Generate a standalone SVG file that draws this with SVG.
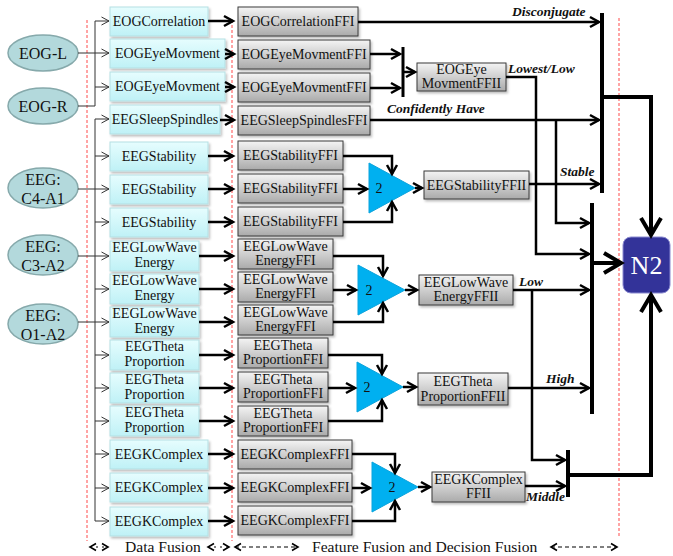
<svg xmlns="http://www.w3.org/2000/svg" width="673" height="556" viewBox="0 0 673 556" font-family="'Liberation Serif', 'Times New Roman', 'DejaVu Serif', serif">
<style>
text{font-family:'Liberation Serif','Times New Roman','DejaVu Serif',serif;fill:#111}
.t{font-size:14px;text-anchor:middle}
.e{font-size:16px;text-anchor:middle}
.lb{font-size:13.5px;font-weight:bold;font-style:italic}
.bt{font-size:15.6px}
.c1{fill:url(#gc);stroke:#b5dfe3;stroke-width:1;filter:url(#sh)}
.c2{fill:url(#gg);stroke:#3a3a3a;stroke-width:1;filter:url(#sh)}
.el{fill:#b3d9dc;stroke:#86a9ab;stroke-width:1.5}
.tri{fill:#00b0f0;stroke:#0aa3dc;stroke-width:1}
.red{stroke:#ff4a4a;stroke-width:1;stroke-dasharray:3,2;fill:none}
.thin{stroke:#333;stroke-width:1;fill:none}
.thk{stroke:#000;stroke-width:2.5;fill:none}
.bar{stroke:#000;stroke-width:4;fill:none}
.big{stroke:#000;stroke-width:4;fill:none}
</style>
<defs>
<linearGradient id="gc" x1="0" y1="0" x2="0" y2="1"><stop offset="0" stop-color="#e6fdfe"/><stop offset="1" stop-color="#bff1f6"/></linearGradient>
<linearGradient id="gg" x1="0" y1="0" x2="0" y2="1"><stop offset="0" stop-color="#f4f4f4"/><stop offset="1" stop-color="#aaaaaa"/></linearGradient>
<filter id="sh" x="-10%" y="-20%" width="130%" height="150%"><feDropShadow dx="1.5" dy="2" stdDeviation="1" flood-color="#000" flood-opacity="0.25"/></filter>
<marker id="a" markerUnits="userSpaceOnUse" markerWidth="14" markerHeight="14" refX="11" refY="7" orient="auto"><path d="M2,2 L11,7 L2,12" stroke="#000" stroke-width="2.5" fill="none"/></marker>
<marker id="at" markerUnits="userSpaceOnUse" markerWidth="10" markerHeight="10" refX="8.5" refY="5" orient="auto"><path d="M1,1 L8.5,5 L1,9" stroke="#333" stroke-width="1" fill="none"/></marker>
<marker id="ab" markerUnits="userSpaceOnUse" markerWidth="26" markerHeight="26" refX="21" refY="13" orient="auto"><path d="M4,3 L21,13 L4,23" stroke="#000" stroke-width="4" fill="none"/></marker>
<marker id="ad" markerUnits="userSpaceOnUse" markerWidth="10" markerHeight="10" refX="7" refY="5" orient="auto-start-reverse"><path d="M1,1.5 L7,5 L1,8.5" stroke="#000" stroke-width="1.6" fill="none"/></marker>
</defs>

<!-- red dashed separators -->
<g id="separators">
<line class="red" x1="87" y1="20" x2="87" y2="541"/>
<line class="red" x1="232" y1="20" x2="232" y2="541"/>
<line class="red" x1="619" y1="18" x2="619" y2="538"/>
</g>

<!-- sources -->
<g id="EOG-L"><ellipse class="el" cx="43" cy="53" rx="35" ry="18"/><text class="e" x="43" y="59">EOG-L</text></g>
<g id="EOG-R"><ellipse class="el" cx="43" cy="106" rx="35" ry="18"/><text class="e" x="43" y="112">EOG-R</text></g>
<g id="EEG-C4A1"><ellipse class="el" cx="43" cy="188" rx="35" ry="20"/><text class="e" x="43" y="185">EEG:</text><text class="e" x="43" y="204">C4-A1</text></g>
<g id="EEG-C3A2"><ellipse class="el" cx="43" cy="255" rx="35" ry="20"/><text class="e" x="43" y="252">EEG:</text><text class="e" x="43" y="271">C3-A2</text></g>
<g id="EEG-O1A2"><ellipse class="el" cx="43" cy="324" rx="35" ry="20"/><text class="e" x="43" y="321">EEG:</text><text class="e" x="43" y="340">O1-A2</text></g>

<!-- column 1 (data fusion) -->
<g id="c1r1"><rect class="c1" x="110" y="7" width="98" height="29"/><text class="t" x="159" y="26">EOGCorrelation</text></g>
<g id="c1r2"><rect class="c1" x="110" y="39" width="115" height="29"/><text class="t" x="167.5" y="58">EOGEyeMovment</text></g>
<g id="c1r3"><rect class="c1" x="110" y="72" width="115" height="29"/><text class="t" x="167.5" y="91">EOGEyeMovment</text></g>
<g id="c1r4"><rect class="c1" x="110" y="105" width="110" height="29"/><text class="t" x="165" y="124">EEGSleepSpindles</text></g>
<g id="c1r5"><rect class="c1" x="110" y="142" width="98" height="29"/><text class="t" x="159" y="161">EEGStability</text></g>
<g id="c1r6"><rect class="c1" x="110" y="175" width="98" height="29"/><text class="t" x="159" y="194">EEGStability</text></g>
<g id="c1r7"><rect class="c1" x="110" y="208" width="98" height="29"/><text class="t" x="159" y="227">EEGStability</text></g>
<g id="c1r8"><rect class="c1" x="110" y="241" width="89" height="30"/><text class="t" x="154.5" y="252">EEGLowWave</text><text class="t" x="154.5" y="267">Energy</text></g>
<g id="c1r9"><rect class="c1" x="110" y="274" width="89" height="30"/><text class="t" x="154.5" y="285">EEGLowWave</text><text class="t" x="154.5" y="300">Energy</text></g>
<g id="c1r10"><rect class="c1" x="110" y="307" width="89" height="30"/><text class="t" x="154.5" y="318">EEGLowWave</text><text class="t" x="154.5" y="333">Energy</text></g>
<g id="c1r11"><rect class="c1" x="110" y="340" width="89" height="30"/><text class="t" x="154.5" y="351">EEGTheta</text><text class="t" x="154.5" y="366">Proportion</text></g>
<g id="c1r12"><rect class="c1" x="110" y="373" width="89" height="30"/><text class="t" x="154.5" y="384">EEGTheta</text><text class="t" x="154.5" y="399">Proportion</text></g>
<g id="c1r13"><rect class="c1" x="110" y="406" width="89" height="30"/><text class="t" x="154.5" y="417">EEGTheta</text><text class="t" x="154.5" y="432">Proportion</text></g>
<g id="c1r14"><rect class="c1" x="110" y="440" width="98" height="29"/><text class="t" x="159" y="459">EEGKComplex</text></g>
<g id="c1r15"><rect class="c1" x="110" y="473" width="98" height="29"/><text class="t" x="159" y="492">EEGKComplex</text></g>
<g id="c1r16"><rect class="c1" x="110" y="507" width="98" height="29"/><text class="t" x="159" y="526">EEGKComplex</text></g>

<!-- column 2 (feature fusion I) -->
<g id="c2r1"><rect class="c2" x="238" y="7" width="120" height="29"/><text class="t" x="298" y="26">EOGCorrelationFFI</text></g>
<g id="c2r2"><rect class="c2" x="238" y="40" width="132" height="29"/><text class="t" x="304" y="59">EOGEyeMovmentFFI</text></g>
<g id="c2r3"><rect class="c2" x="238" y="73" width="132" height="29"/><text class="t" x="304" y="92">EOGEyeMovmentFFI</text></g>
<g id="c2r4"><rect class="c2" x="238" y="106" width="132" height="29"/><text class="t" x="304" y="125">EEGSleepSpindlesFFI</text></g>
<g id="c2r5"><rect class="c2" x="238" y="141" width="105" height="29"/><text class="t" x="290.5" y="160">EEGStabilityFFI</text></g>
<g id="c2r6"><rect class="c2" x="238" y="174" width="105" height="29"/><text class="t" x="290.5" y="193">EEGStabilityFFI</text></g>
<g id="c2r7"><rect class="c2" x="238" y="207" width="105" height="29"/><text class="t" x="290.5" y="226">EEGStabilityFFI</text></g>
<g id="c2r8"><rect class="c2" x="238" y="239" width="95" height="30"/><text class="t" x="285.5" y="251">EEGLowWave</text><text class="t" x="285.5" y="265">EnergyFFI</text></g>
<g id="c2r9"><rect class="c2" x="238" y="272" width="95" height="30"/><text class="t" x="285.5" y="284">EEGLowWave</text><text class="t" x="285.5" y="298">EnergyFFI</text></g>
<g id="c2r10"><rect class="c2" x="238" y="305" width="95" height="30"/><text class="t" x="285.5" y="317">EEGLowWave</text><text class="t" x="285.5" y="331">EnergyFFI</text></g>
<g id="c2r11"><rect class="c2" x="238" y="338" width="90" height="30"/><text class="t" x="283" y="350">EEGTheta</text><text class="t" x="283" y="364">ProportionFFI</text></g>
<g id="c2r12"><rect class="c2" x="238" y="372" width="90" height="30"/><text class="t" x="283" y="384">EEGTheta</text><text class="t" x="283" y="398">ProportionFFI</text></g>
<g id="c2r13"><rect class="c2" x="238" y="406" width="90" height="30"/><text class="t" x="283" y="418">EEGTheta</text><text class="t" x="283" y="432">ProportionFFI</text></g>
<g id="c2r14"><rect class="c2" x="238" y="440" width="114" height="29"/><text class="t" x="295" y="459">EEGKComplexFFI</text></g>
<g id="c2r15"><rect class="c2" x="238" y="473" width="114" height="29"/><text class="t" x="295" y="492">EEGKComplexFFI</text></g>
<g id="c2r16"><rect class="c2" x="238" y="506" width="114" height="29"/><text class="t" x="295" y="525">EEGKComplexFFI</text></g>

<!-- fusion triangles -->
<g id="tri1"><polygon class="tri" points="369,163 369,213 415,188"/><text class="t" x="379" y="193">2</text></g>
<g id="tri2"><polygon class="tri" points="358,265 358,315 405,290"/><text class="t" x="369" y="295">2</text></g>
<g id="tri3"><polygon class="tri" points="357,362 357,412 403,387"/><text class="t" x="367" y="392">2</text></g>
<g id="tri4"><polygon class="tri" points="372,462 372,512 418,487"/><text class="t" x="392" y="492">2</text></g>

<!-- FFII boxes -->
<g id="ffii-eog"><rect class="c2" x="417" y="63" width="89" height="28"/><text class="t" x="461.5" y="74">EOGEye</text><text class="t" x="461.5" y="88">MovmentFFII</text></g>
<g id="ffii-stab"><rect class="c2" x="424" y="171" width="105" height="28"/><text class="t" x="476.5" y="190">EEGStabilityFFII</text></g>
<g id="ffii-low"><rect class="c2" x="419" y="275" width="94" height="30"/><text class="t" x="466" y="287">EEGLowWave</text><text class="t" x="466" y="301">EnergyFFII</text></g>
<g id="ffii-theta"><rect class="c2" x="418" y="373" width="90" height="32"/><text class="t" x="463" y="386">EEGTheta</text><text class="t" x="463" y="401">ProportionFFII</text></g>
<g id="ffii-k"><rect class="c2" x="432" y="472" width="93" height="30"/><text class="t" x="478.5" y="484">EEGKComplex</text><text class="t" x="478.5" y="498">FFII</text></g>

<!-- N2 -->
<g id="N2"><rect x="623" y="237" width="47" height="56" rx="8" fill="#333399" stroke="#8a8ad0" stroke-width="1"/><text x="646.5" y="274" font-size="26" text-anchor="middle" style="fill:#fff">N2</text></g>

<!-- connectors -->
<g id="connectors">
<line class="thin" x1="78" y1="53" x2="109" y2="53" marker-end="url(#at)"/>
<polyline class="thin" points="78,106 95,106 95,21 109,21" marker-end="url(#at)"/>
<line class="thin" x1="95" y1="87" x2="109" y2="87" marker-end="url(#at)"/>
<polyline class="thin" points="95,521 95,119 109,119" marker-end="url(#at)"/>
<line class="thin" x1="95" y1="156" x2="109" y2="156" marker-end="url(#at)"/>
<line class="thin" x1="78" y1="189" x2="109" y2="189" marker-end="url(#at)"/>
<line class="thin" x1="95" y1="222" x2="109" y2="222" marker-end="url(#at)"/>
<line class="thin" x1="78" y1="256" x2="109" y2="256" marker-end="url(#at)"/>
<line class="thin" x1="95" y1="289" x2="109" y2="289" marker-end="url(#at)"/>
<line class="thin" x1="78" y1="322" x2="109" y2="322" marker-end="url(#at)"/>
<line class="thin" x1="95" y1="355" x2="109" y2="355" marker-end="url(#at)"/>
<line class="thin" x1="95" y1="388" x2="109" y2="388" marker-end="url(#at)"/>
<line class="thin" x1="95" y1="421" x2="109" y2="421" marker-end="url(#at)"/>
<line class="thin" x1="95" y1="454" x2="109" y2="454" marker-end="url(#at)"/>
<line class="thin" x1="95" y1="488" x2="109" y2="488" marker-end="url(#at)"/>
<polyline class="thin" points="95,521 109,521" marker-end="url(#at)"/>

<line class="thk" x1="208" y1="21" x2="233" y2="21" marker-end="url(#a)"/>
<line class="thk" x1="225" y1="54" x2="234" y2="54" marker-end="url(#a)"/>
<line class="thk" x1="225" y1="87" x2="234" y2="87" marker-end="url(#a)"/>
<line class="thk" x1="220" y1="120" x2="234" y2="120" marker-end="url(#a)"/>
<line class="thk" x1="208" y1="156" x2="233" y2="156" marker-end="url(#a)"/>
<line class="thk" x1="208" y1="189" x2="233" y2="189" marker-end="url(#a)"/>
<line class="thk" x1="208" y1="222" x2="233" y2="222" marker-end="url(#a)"/>
<line class="thk" x1="199" y1="256" x2="233" y2="256" marker-end="url(#a)"/>
<line class="thk" x1="199" y1="289" x2="233" y2="289" marker-end="url(#a)"/>
<line class="thk" x1="199" y1="322" x2="233" y2="322" marker-end="url(#a)"/>
<line class="thk" x1="199" y1="355" x2="233" y2="355" marker-end="url(#a)"/>
<line class="thk" x1="199" y1="388" x2="233" y2="388" marker-end="url(#a)"/>
<line class="thk" x1="199" y1="421" x2="233" y2="421" marker-end="url(#a)"/>
<line class="thk" x1="208" y1="454" x2="233" y2="454" marker-end="url(#a)"/>
<line class="thk" x1="208" y1="488" x2="233" y2="488" marker-end="url(#a)"/>
<line class="thk" x1="208" y1="521" x2="233" y2="521" marker-end="url(#a)"/>

<line class="thk" x1="358" y1="22" x2="599" y2="22" marker-end="url(#a)"/>
<line class="thk" x1="370" y1="54" x2="400" y2="54" marker-end="url(#a)"/>
<line class="thk" x1="370" y1="88" x2="400" y2="88" marker-end="url(#a)"/>
<line class="bar" x1="403" y1="47" x2="403" y2="97" style="stroke-width:3"/>
<line class="thk" x1="404" y1="72" x2="415" y2="72" marker-end="url(#a)"/>
<polyline class="thk" points="506,77 536,77 536,254 589,254" marker-end="url(#a)"/>
<line class="thk" x1="370" y1="120" x2="599" y2="120" marker-end="url(#a)"/>
<polyline class="thk" points="556,120 556,223 589,223" marker-end="url(#a)"/>

<polyline class="thk" points="343,156 392,156 392,174" marker-end="url(#a)"/>
<line class="thk" x1="343" y1="189" x2="367" y2="189" marker-end="url(#a)"/>
<polyline class="thk" points="343,222 392,222 392,202" marker-end="url(#a)"/>
<line class="thk" x1="415" y1="188" x2="422" y2="188" marker-end="url(#a)"/>
<line class="thk" x1="529" y1="184" x2="599" y2="184" marker-end="url(#a)"/>

<polyline class="thk" points="333,256 383,256 383,276" marker-end="url(#a)"/>
<line class="thk" x1="333" y1="290" x2="356" y2="290" marker-end="url(#a)"/>
<polyline class="thk" points="333,322 383,322 383,303" marker-end="url(#a)"/>
<line class="thk" x1="405" y1="290" x2="417" y2="290" marker-end="url(#a)"/>
<line class="thk" x1="513" y1="290" x2="589" y2="290" marker-end="url(#a)"/>
<polyline class="thk" points="532,290 532,460 565,460" marker-end="url(#a)"/>

<polyline class="thk" points="328,355 382,355 382,374" marker-end="url(#a)"/>
<line class="thk" x1="328" y1="388" x2="355" y2="388" marker-end="url(#a)"/>
<polyline class="thk" points="328,421 382,421 382,400" marker-end="url(#a)"/>
<line class="thk" x1="403" y1="387" x2="416" y2="387" marker-end="url(#a)"/>
<line class="thk" x1="508" y1="388" x2="589" y2="388" marker-end="url(#a)"/>

<polyline class="thk" points="352,454 395,454 395,473" marker-end="url(#a)"/>
<line class="thk" x1="352" y1="488" x2="370" y2="488" marker-end="url(#a)"/>
<polyline class="thk" points="352,521 395,521 395,501" marker-end="url(#a)"/>
<line class="thk" x1="418" y1="487" x2="430" y2="487" marker-end="url(#a)"/>
<line class="thk" x1="525" y1="486" x2="565" y2="486" marker-end="url(#a)"/>

<line class="bar" x1="602" y1="13" x2="602" y2="193"/>
<line class="bar" x1="592" y1="203" x2="592" y2="414"/>
<line class="bar" x1="568" y1="450" x2="568" y2="497"/>

<polyline class="big" points="602,97 651,97 651,235" marker-end="url(#ab)"/>
<line class="big" x1="592" y1="263" x2="621" y2="263" marker-end="url(#ab)"/>
<polyline class="big" points="568,475 651,475 651,295" marker-end="url(#ab)"/>
</g>

<g id="labels">
<text class="lb" x="512" y="16">Disconjugate</text>
<text class="lb" x="508" y="73">Lowest/Low</text>
<text class="lb" x="387" y="113">Confidently Have</text>
<text class="lb" x="560" y="176">Stable</text>
<text class="lb" x="519" y="286">Low</text>
<text class="lb" x="546" y="383">High</text>
<text class="lb" x="526" y="501">Middle</text>
</g>

<g id="legend">
<line x1="90" y1="547" x2="108" y2="547" stroke="#000" stroke-width="1.2" stroke-dasharray="2,4" marker-start="url(#ad)" marker-end="url(#ad)"/>
<text class="bt" x="125" y="552">Data Fusion</text>
<line x1="208" y1="547" x2="229" y2="547" stroke="#000" stroke-width="1.2" stroke-dasharray="2,4" marker-start="url(#ad)" marker-end="url(#ad)"/>
<line x1="235" y1="547" x2="298" y2="547" stroke="#000" stroke-width="1.2" stroke-dasharray="4,3" marker-start="url(#ad)" marker-end="url(#ad)"/>
<text class="bt" x="312" y="552">Feature Fusion and Decision Fusion</text>
<line x1="551" y1="547" x2="617" y2="547" stroke="#000" stroke-width="1.2" stroke-dasharray="4,3" marker-start="url(#ad)" marker-end="url(#ad)"/>
</g>
</svg>
